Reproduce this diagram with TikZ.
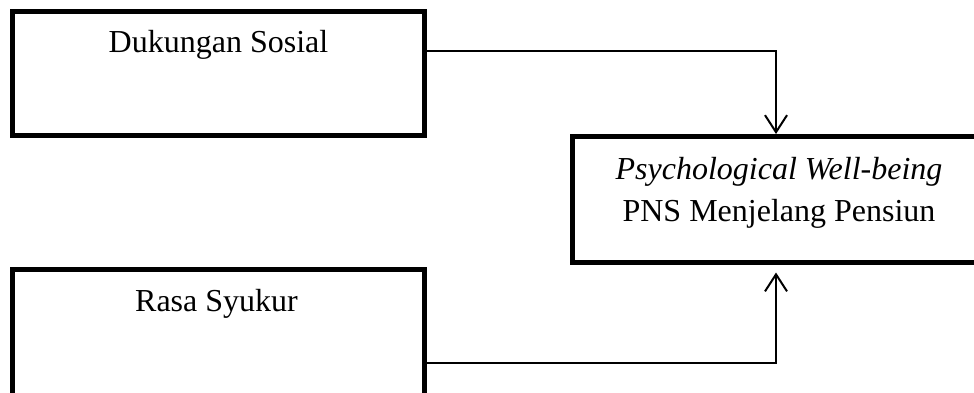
\documentclass[tikz,border=0pt]{standalone}
\usepackage{fontspec}
\setmainfont{Liberation Serif}
\usetikzlibrary{arrows.meta}
\begin{document}
\begin{tikzpicture}[x=1pt,y=1pt,
  box/.style={draw=black, line width=5pt, rectangle, minimum width=412pt, inner sep=0pt},
  lbl/.style={anchor=base, inner sep=0pt, font=\fontsize{32}{38}\selectfont},
  conn/.style={draw=black, line width=2pt, -{Straight Barb[length=17pt,width=22pt]}}]
\useasboundingbox (0,0) rectangle (974,-392);
\clip (0,0) rectangle (974,-392);
\node[box, minimum height=124pt] (b1) at (218,-73.5) {};
\node[box, minimum height=125.5pt] (b2) at (778.7,-199.25) {};
\node[box, minimum height=131pt] (b3) at (218,-335) {};
\node[lbl] (t1) at (218.5,-52.7) {Dukungan Sosial};
\node[lbl] (t2) at (779,-179) {\itshape Psychological Well-being};
\node[lbl] (t3) at (779,-221) {PNS Menjelang Pensiun};
\node[lbl] (t4) at (216.5,-311.7) {Rasa Syukur};
\coordinate (c1) at (430,-50.5);
\coordinate (c2) at (430,-363);
\draw[conn] (b1.east |- c1) -| ([xshift=-2.7pt]b2.north);
\draw[conn, shorten >=8pt] (b3.east |- c2) -| ([xshift=-2.7pt]b2.south);
\end{tikzpicture}
\end{document}
